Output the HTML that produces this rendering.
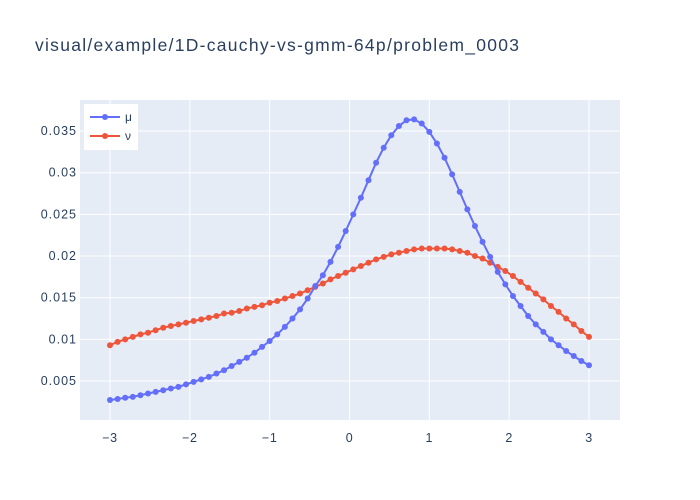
<!DOCTYPE html>
<html><head><meta charset="utf-8">
<style>body{margin:0;background:#fff}svg{display:block;font-family:"Liberation Sans",Arial,sans-serif}</style>
</head><body>
<svg id="chart" width="700" height="500">
<rect width="700" height="500" fill="#fff"/>
<text x="35" y="51" font-size="17.5" fill="#2a3f5f" textLength="484" lengthAdjust="spacing">visual/example/1D-cauchy-vs-gmm-64p/problem_0003</text>
<rect x="80" y="100" width="540" height="320" fill="#e5ecf6"/>
<g id="grid"></g><g id="series"></g><g id="axes"></g>
<g>
<rect x="84" y="104" width="54" height="46" fill="#fff" stroke="none"/>
<g><line x1="90" y1="117" x2="120" y2="117" stroke="#636efa" stroke-width="2"/><circle cx="105" cy="117" r="3" fill="#636efa"/><text x="125" y="121" font-size="12" fill="#2a3f5f">μ</text></g>
<g><line x1="90" y1="136" x2="120" y2="136" stroke="#ef553b" stroke-width="2"/><circle cx="105" cy="136" r="3" fill="#ef553b"/><text x="125" y="140" font-size="12" fill="#2a3f5f">ν</text></g>
</g>
</svg>
<script>
const muValues=[.00272,.00284,.0030,.0031,.0033,.0035,.0037,.0039,.0041,.0043,.0046,.0049,.0052,.0055,.0059,.0063,.0068,.0073,.0078,.0084,.0091,.0098,.0106,.0115,.0125,.0136,.0149,.0164,.0177,.0193,.0211,.0230,.0250,.0270,.0291,.0312,.0330,.0345,.0356,.0363,.0364,.0359,.0349,.0335,.0318,.0298,.0277,.0256,.0236,.0217,.0199,.0181,.0166,.0152,.0140,.0128,.0118,.0109,.0100,.0093,.0086,.0080,.0074,.0069];
const nuValues=[.0093,.0097,.0100,.0103,.0106,.0108,.0111,.0114,.0116,.0118,.0120,.0122,.0124,.0126,.0128,.0131,.0132,.0134,.0137,.0139,.0141,.0144,.0146,.0149,.0152,.0155,.0159,.0163,.0167,.0172,.0176,.0180,.0184,.0188,.0192,.0196,.0199,.0202,.0204,.0206,.0208,.0209,.0209,.0209,.0209,.0208,.0206,.0204,.0200,.0197,.0192,.0187,.0182,.0176,.0169,.0162,.0155,.0148,.0140,.0133,.0125,.0118,.0110,.0103];
const xStart=-3, xEnd=3;
const xTicks=[-3,-2,-1,0,1,2,3];
const xTickLabels=["−3","−2","−1","0","1","2","3"];
const yTicks=[0.005,0.01,0.015,0.02,0.025,0.03,0.035];
const yTickLabels=["0.005","0.01","0.015","0.02","0.025","0.03","0.035"];
const NS="http://www.w3.org/2000/svg";
const X=v=>110+(v+3)*79.83;
const Y=v=>422.7-v*8333.3;
function mk(tag,attrs,parent){const e=document.createElementNS(NS,tag);for(const k in attrs)e.setAttribute(k,attrs[k]);parent.appendChild(e);return e;}
const grid=document.getElementById('grid'),axes=document.getElementById('axes'),ser=document.getElementById('series');
xTicks.forEach((t,i)=>{
 const l=mk('line',{x1:X(t),x2:X(t),y1:100,y2:420,stroke:'#fff','stroke-width':1},grid);
 
 
 const tx=mk('text',{x:X(t),y:442,'font-size':12.5,'letter-spacing':0.6,fill:'#2a3f5f','text-anchor':'middle'},axes);
 tx.textContent=xTickLabels[i];
 
 
});
yTicks.forEach((t,i)=>{
 const l=mk('line',{x1:80,x2:620,y1:Y(t),y2:Y(t),stroke:'#fff','stroke-width':1},grid);
 
 
 const tx=mk('text',{x:77,y:Y(t)+4,'font-size':12.5,'letter-spacing':1,fill:'#2a3f5f','text-anchor':'end'},axes);
 tx.textContent=yTickLabels[i];
 
 
});
function draw(vals,color,name){
 const n=vals.length;
 const pts=vals.map((v,i)=>[X(xStart+(xEnd-xStart)*i/(n-1)),Y(v)]);
 const g=mk('g',{},ser);
 
 
 const p=mk('polyline',{points:pts.map(p=>p.join(',')).join(' '),fill:'none',stroke:color,'stroke-width':2},g);
 
 
 pts.forEach(q=>{
  const c=mk('circle',{cx:q[0],cy:q[1],r:3,fill:color},g);
  
  
 });
}
draw(nuValues,'#ef553b','nu');
draw(muValues,'#636efa','mu');
</script>
</body></html>
